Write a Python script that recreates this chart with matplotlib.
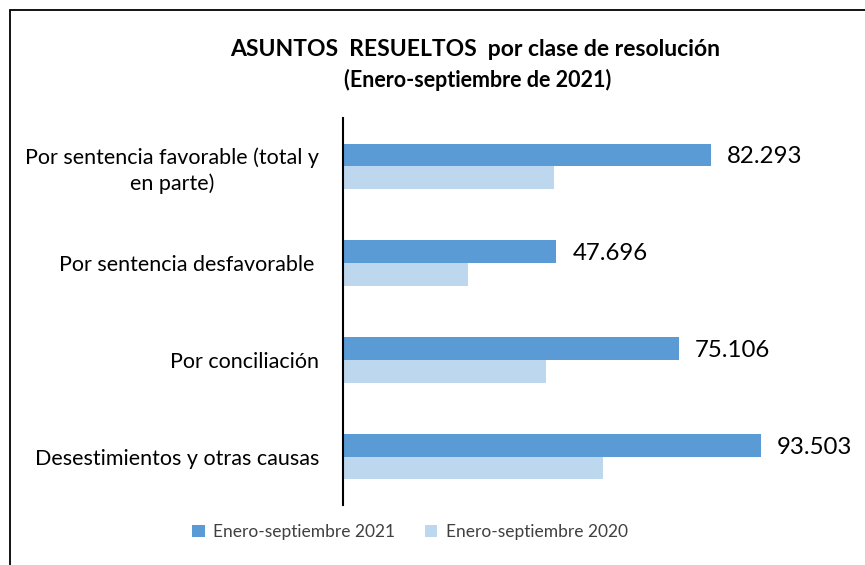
import matplotlib.pyplot as plt
from matplotlib.patches import Rectangle
import numpy as np

categorias = ['Por sentencia favorable (total y\nen parte)',
              'Por sentencia desfavorable ',
              'Por conciliación',
              'Desestimientos y otras causas']
valores_2021 = [82293, 47696, 75106, 93503]
valores_2020 = [47130, 27900, 45350, 58230]
etiquetas = ['82.293', '47.696', '75.106', '93.503']
series = ['Enero-septiembre 2021', 'Enero-septiembre 2020']

plt.rcParams['font.family'] = ['Lato', 'DejaVu Sans']

fig = plt.figure(figsize=(8.65, 5.65), dpi=100)
W, H = 865, 565

# marco exterior
fig.patches.append(Rectangle((10 / W, -0.1), 1.1, 1 - 10 / H + 0.1, transform=fig.transFigure,
                             fill=False, edgecolor='black', linewidth=1.3))

ax = fig.add_axes([343 / W, 1 - 505 / H, 520 / W, (505 - 118) / H])

y = np.arange(len(categorias))
alto = 0.235
ax.barh(y - alto / 2, valores_2021, height=alto, color='#5B9BD5', label=series[0])
ax.barh(y + alto / 2, valores_2020, height=alto, color='#BDD7EE', label=series[1])

for yi, v, t in zip(y, valores_2021, etiquetas):
    ax.text(v + 3600, yi - alto / 2 + 0.02, t, va='center', ha='left', fontsize=17.3, color='black')

ax.set_xlim(0, 116300)
ax.set_ylim(len(categorias) - 0.5, -0.5)
ax.set_yticks(y)
ax.set_yticklabels(categorias, fontsize=15.5, multialignment='center', linespacing=1.3)
ax.tick_params(axis='y', length=0, pad=17)
ax.set_xticks([])
for s in ['top', 'right', 'bottom']:
    ax.spines[s].set_visible(False)
ax.spines['left'].set_linewidth(1.5)

fig.text(475 / W, 1 - 50 / H, 'ASUNTOS  RESUELTOS  por clase de resolución',
         ha='center', va='center', fontsize=16.5, fontweight='bold')
fig.text(478 / W, 1 - 80 / H, '(Enero-septiembre de 2021)',
         ha='center', va='center', fontsize=15.5, fontweight='bold')

fig.legend(loc='center', bbox_to_anchor=(410 / W, 1 - 532 / H), ncol=2, frameon=False,
           fontsize=12.5, handlelength=0.7, handleheight=0.7, columnspacing=1.7,
           handletextpad=0.5, labelcolor='#404040')

fig.savefig('out.png', dpi=100)
